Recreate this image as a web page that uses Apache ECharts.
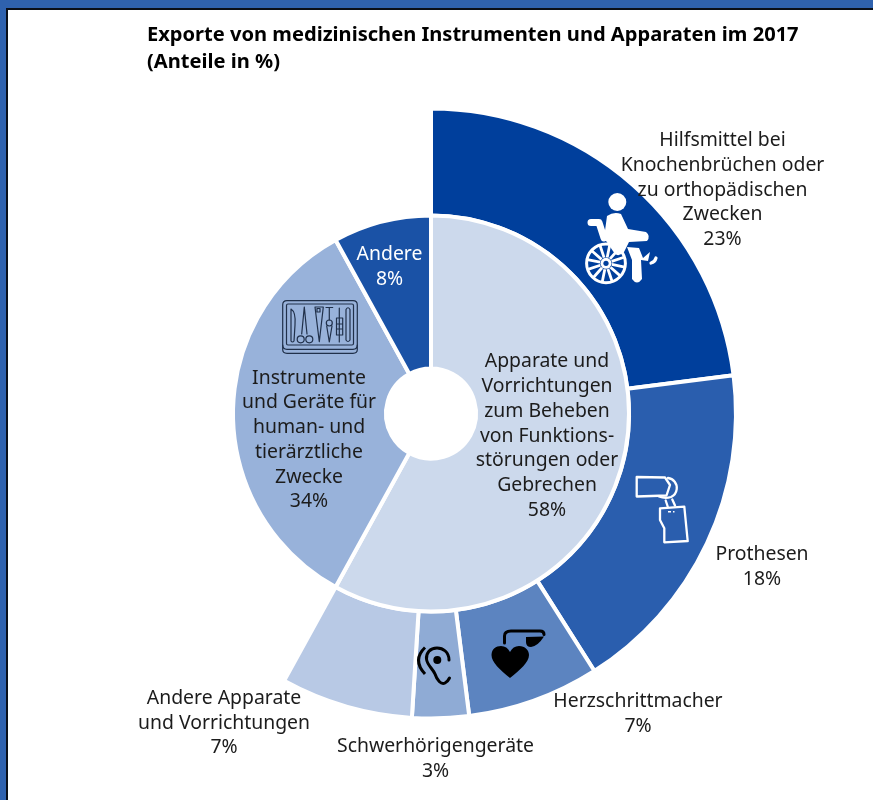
<!DOCTYPE html>
<html><head><meta charset="utf-8">
<style>html,body{margin:0;padding:0;background:#fff}#c{width:873px;height:800px}</style>
<script src="https://cdn.jsdelivr.net/npm/echarts@6/dist/echarts.min.js"></script>
</head><body><div id="c"></div>
<script>
const titleText = "Exporte von medizinischen Instrumenten und Apparaten im 2017\n(Anteile in %)";
const innerNames = ["Apparate und\nVorrichtungen\nzum Beheben\nvon Funktions-\nstörungen oder\nGebrechen", "Instrumente\nund Geräte für\nhuman- und\ntierärztliche\nZwecke", "Andere"];
const innerValues = [58, 34, 8];
const outerNames = ["Hilfsmittel bei\nKnochenbrüchen oder\nzu orthopädischen\nZwecken", "Prothesen", "Herzschrittmacher", "Schwerhörigengeräte", "Andere Apparate\nund Vorrichtungen"];
const outerValues = [23, 18, 7, 3, 7];

const innerColors = ["#ccd9ec", "#98b2da", "#1a52a6"];
const outerColors = ["#003f9c", "#2a5eae", "#5c84c0", "#8fabd5", "#b8c9e5"];
const innerLabelPos = [[547, 436], [309, 440], [389.5, 267]];
const outerLabelPos = [[722.5, 190], [762, 567], [638, 714], [435.5, 759], [224, 723]];

const CX = 431, CY = 413.5, FONT = '"Noto Sans", "Open Sans", sans-serif';
const outerSum = outerValues.reduce((a, b) => a + b, 0);

function item(names, values, colors) {
  return values.map((v, i) => ({ name: names[i], value: v, itemStyle: { color: colors[i] } }));
}
function layoutFrom(pos) {
  return p => ({ x: pos[p.dataIndex][0], y: pos[p.dataIndex][1], align: 'center', verticalAlign: 'middle' });
}
const baseLabel = {
  show: true, position: 'inside', formatter: '{b}\n{c}%',
  fontFamily: FONT, fontSize: 19.4, lineHeight: 24.7, color: '#1c1c1c', align: 'center'
};

const W = '#ffffff', K = '#000000', D = '#20304a';
let pathCount = 0;
function p(d, style) {
  const name = 'iconPath' + (pathCount++);
  echarts.graphic.registerShape(name, echarts.graphic.extendPath(d, {}));
  return { type: name, silent: true, z: 20, style: Object.assign({ fill: null, lineCap: 'round', lineJoin: 'round' }, style) };
}
function circ(x, y, r, style) { return { type: 'circle', shape: { cx: x, cy: y, r: r }, silent: true, z: 20, style: style }; }

const spokes = [];
for (let a = 0; a < 12; a++) {
  const t = a * Math.PI / 6 + 0.2;
  spokes.push(`M${606 + 6 * Math.cos(t)} ${263.3 + 6 * Math.sin(t)} L${606 + 19 * Math.cos(t)} ${263.3 + 19 * Math.sin(t)}`);
}
const icons = [
  // frame
  { type: 'rect', shape: { x: 0, y: 0, width: 873, height: 8 }, style: { fill: '#2f62ae' }, silent: true },
  { type: 'rect', shape: { x: 0, y: 0, width: 6, height: 800 }, style: { fill: '#2f62ae' }, silent: true },
  { type: 'rect', shape: { x: 6, y: 8, width: 867, height: 2 }, style: { fill: '#0a0f18' }, silent: true },
  { type: 'rect', shape: { x: 6, y: 8, width: 2, height: 792 }, style: { fill: '#0a0f18' }, silent: true },
  // wheelchair
  circ(617.3, 202, 9, { fill: W }),
  p('M607 216 Q614 211 621 214 L628 229 L646 232 Q651 236 647 241 L629 242 L624 252 Q619 257 615 254 L604 238 Z', { fill: W }),
  p('M591 222.5 L599 222.5 L604 238', { stroke: W, lineWidth: 7 }),
  circ(606, 263.3, 19.4, { fill: null, stroke: W, lineWidth: 3 }),
  p(spokes.join(' '), { stroke: W, lineWidth: 2.8, lineCap: 'butt' }),
  circ(606, 263.3, 5.5, { fill: W }),
  circ(606, 263.3, 2.6, { fill: '#003f9c' }),
  p('M627 247 L639 248 L643 258 L650 252 L648 261 L641 260 L642 279 Q637 286 632 279 L632 260 Z', { fill: W }),
  p('M651 263 Q655 262 656 258', { stroke: W, lineWidth: 3.2 }),
  // prosthesis
  p('M636.7 477 L665 477.5 L670 485 L666.5 495.5 L636.7 496.5 Z', { stroke: W, lineWidth: 2.3 }),
  p('M668 478 A10 10 0 0 1 671 497 Q665 499 659 496.5', { stroke: W, lineWidth: 2.3 }),
  p('M667.7 506.5 L665.7 500.5 M675 505.5 L672.3 499.5', { stroke: W, lineWidth: 2.3 }),
  p('M660 508.3 L684.3 506.7 L687.7 541 L664.3 542.3 L664.3 528.3 L660 520 Z', { stroke: W, lineWidth: 2.3 }),
  p('M668 511.7 L671 511.7 M673 511.7 L674.5 511.7', { stroke: W, lineWidth: 1.5, lineCap: 'butt' }),
  // pacemaker
  p('M510 678 C500 670 491.5 662 491.5 655 C491.5 649 496 646 501 646 C505 646 508 648 510 652 C512 648 515 646 519 646 C525 646 529 650 529 655 C529 662 520 670 510 678 Z', { fill: K }),
  p('M504.5 643 L504.5 636 Q504.5 631 511 631 L540 631 Q544 631 544 634.5', { stroke: K, lineWidth: 3 }),
  p('M526 637 L544 636.5 Q538 646 531 647 Q526 647 526 642 Z', { fill: K }),
  // ear
  p('M449 660 C449 652 443 648 437 648 C430 648 426 653 426.5 659 C427 665 433 669 435 674 C437 680 441 685 445 683 C447 682 448.5 680 449.5 678', { stroke: K, lineWidth: 3 }),
  circ(437.3, 660, 4, { fill: K }),
  p('M425 647.5 Q412 660 425 674', { stroke: K, lineWidth: 3, lineCap: 'butt' }),
  // instruments tray
  p('M287 300.7 L353 300.7 Q357.3 300.7 357.3 305 L357.3 345 Q357.3 349.3 353 349.3 L287 349.3 Q282.7 349.3 282.7 345 L282.7 305 Q282.7 300.7 287 300.7 Z', { stroke: D, lineWidth: 1.2 }),
  p('M288 304 L352 304 Q353.5 304 353.5 305.5 L353.5 343.5 Q353.5 345 352 345 L288 345 Q286.5 345 286.5 343.5 L286.5 305.5 Q286.5 304 288 304 Z', { stroke: D, lineWidth: 1.2 }),
  p('M282.7 345 L282.7 349.5 Q282.7 353.3 287 353.3 L353 353.3 Q357.3 353.3 357.3 349.5 L357.3 345', { stroke: D, lineWidth: 1.2 }),
  p('M291 309 Q296 312 295 325 L294 341 Q292.5 343 291 341 Z', { stroke: D, lineWidth: 1.2 }),
  p('M304.3 307 L301.7 334 M304.3 307 L307 334', { stroke: D, lineWidth: 1.2 }),
  circ(300.7, 339.3, 3.5, { fill: null, stroke: D, lineWidth: 1.2 }),
  circ(309.3, 339.3, 3.5, { fill: null, stroke: D, lineWidth: 1.2 }),
  p('M315 307 L323.3 307 L319.3 341.7 Z M317 308.5 L320 308.5 L320 312 L317 312 Z', { stroke: D, lineWidth: 1.2 }),
  p('M326 307.5 L332.7 307.5 M329.3 307.5 L329.3 320 M326.7 326 L329.3 342 L332 326', { stroke: D, lineWidth: 1.2 }),
  circ(329.3, 323, 3, { fill: null, stroke: D, lineWidth: 1.2 }),
  p('M339.3 308 L339.3 342 M336.5 318 L342.7 318 L342.7 335 L336.5 335 Z M336.5 324 L342.7 324 M336.5 329 L342.7 329', { stroke: D, lineWidth: 1.2 }),
  p('M346 309.5 Q348 306 350 309.5 L350 340 Q348 343 346 340 Z', { stroke: D, lineWidth: 1.2 })
];

const chart = echarts.init(document.getElementById('c'), null, { renderer: 'canvas' });
chart.setOption({
  animation: false,
  backgroundColor: '#ffffff',
  title: {
    text: titleText, left: 147, top: 22, padding: 0,
    textStyle: { fontFamily: FONT, fontWeight: 'bold', fontSize: 20.1, lineHeight: 27, color: '#000' }
  },
  graphic: { elements: icons },
  series: [
    {
      type: 'pie', name: 'Aufteilung', center: [CX, CY], radius: [198, 305], clockwise: true,
      startAngle: 90, endAngle: 90 - outerSum * 3.6, silent: true, avoidLabelOverlap: false,
      itemStyle: { borderColor: '#fff', borderWidth: 4 },
      label: baseLabel, labelLine: { show: false }, labelLayout: layoutFrom(outerLabelPos),
      data: item(outerNames, outerValues, outerColors)
    },
    {
      type: 'pie', name: 'Anteile', center: [CX, CY], radius: [45, 198], clockwise: true,
      startAngle: 90, silent: true, avoidLabelOverlap: false,
      itemStyle: { borderColor: '#fff', borderWidth: 4 },
      label: baseLabel, labelLine: { show: false }, labelLayout: layoutFrom(innerLabelPos),
      data: item(innerNames, innerValues, innerColors).map((d, i) => i === 2 ? Object.assign(d, { label: { color: '#fff' } }) : d)
    }
  ]
});
</script></body></html>
